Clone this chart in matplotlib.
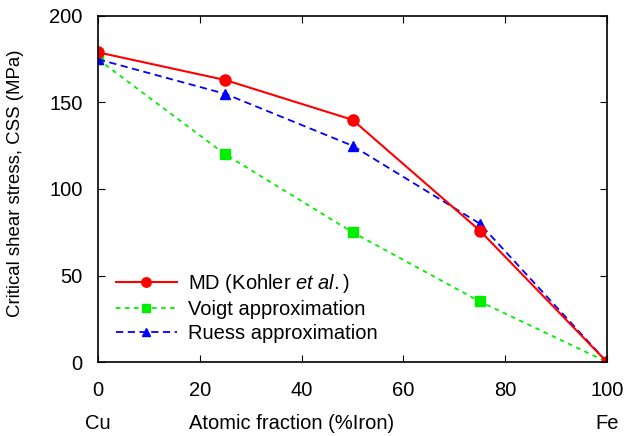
import matplotlib
matplotlib.use("Agg")
import matplotlib.pyplot as plt

x = [0, 25, 50, 75, 100]
md = [179, 163, 140, 76, 0]
voigt = [175, 120, 75, 35, 0]
ruess = [175, 155, 125, 80, 0]
xticks = [0, 20, 40, 60, 80, 100]
yticks = [0, 50, 100, 150, 200]

plt.rcParams['font.family'] = ['Liberation Sans', 'DejaVu Sans']
plt.rcParams['mathtext.fontset'] = 'custom'
plt.rcParams['mathtext.rm'] = 'Liberation Sans'
plt.rcParams['mathtext.it'] = 'Liberation Sans:italic'
FS = 14.5

fig = plt.figure(figsize=(6.26, 4.36), dpi=100)
ax = fig.add_axes([98/626, 1 - 362/436, 509/626, 346/436])

ax.plot(x, voigt, color='#00ee00', ls=(0, (2.5, 2.5)), lw=1.3, marker='s', ms=7,
        label='Voigt approximation')
ax.plot(x, ruess, color='#0000ff', ls=(0, (4, 2.5)), lw=1.3, marker='^', ms=7,
        label='Ruess approximation')
ax.plot(x, md, color='#ff0000', ls='-', lw=1.5, marker='o', ms=8,
        label='MD (Kohler $\\it{et}$ $\\it{al.}$)')

ax.set_xlim(0, 100)
ax.set_ylim(0, 200)
ax.set_xticks(xticks)
ax.set_yticks(yticks)
ax.tick_params(direction='in', top=True, right=True, labelsize=FS, length=5)
ax.tick_params(axis='x', pad=14)
ax.tick_params(axis='y', pad=11)
for s in ax.spines.values():
    s.set_linewidth(1.2)

ax.set_ylabel('Critical shear stress, CSS (MPa)', fontsize=13.4)
ax.yaxis.set_label_coords(-(98 - 24) / 509, (362 - 183.5) / 346)

fig.text(98/626, 1 - 423/436, 'Cu', fontsize=FS, ha='center', va='center')
fig.text(607/626, 1 - 423/436, 'Fe', fontsize=FS, ha='center', va='center')
fig.text(292/626, 1 - 423/436, 'Atomic fraction (%Iron)', fontsize=FS, ha='center', va='center')

h, l = ax.get_legend_handles_labels()
order = [2, 0, 1]
leg = ax.legend([h[i] for i in order], [l[i] for i in order], loc='lower left',
                bbox_to_anchor=(0.0, 0.003), frameon=False, fontsize=FS,
                handlelength=3.0, labelspacing=0.25, handletextpad=0.55,
                markerscale=0.85)

fig.savefig('out.png', dpi=100)
